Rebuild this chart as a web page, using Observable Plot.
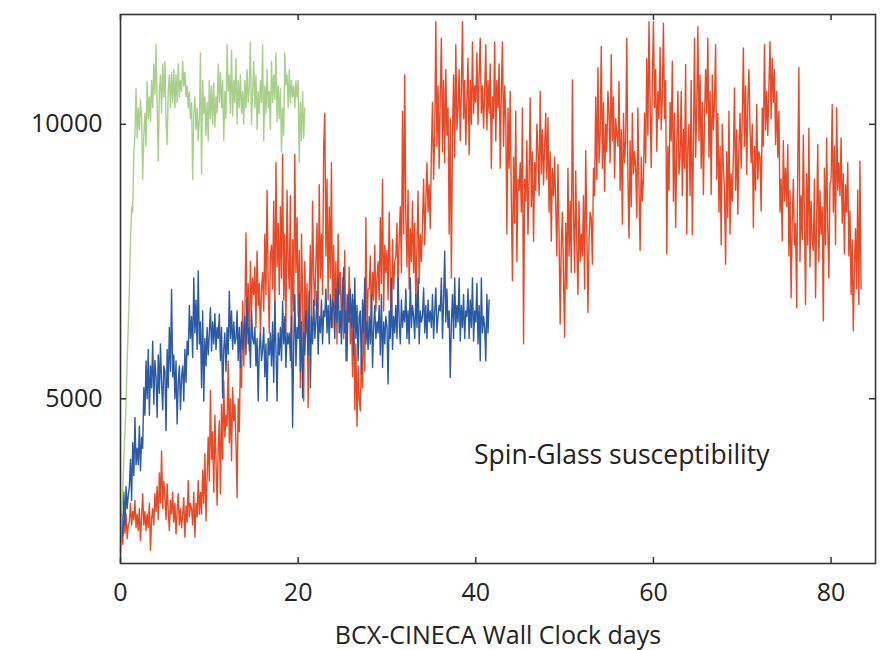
<!DOCTYPE html>
<html><head><meta charset="utf-8">
<script src="https://cdn.jsdelivr.net/npm/d3@7"></script>
<script src="https://cdn.jsdelivr.net/npm/@observablehq/plot@0.6"></script>
<style>body{margin:0;background:#fff}#chart svg{display:block}</style>
</head><body><div id="chart"></div>
<script>
// sampling interval of every series, in days (8 samples per day)
const stepDays = 0.125;

// red run (day 0 .. 83.375)
const redValues = [
2420,2650,2350,2800,2550,2900,2450,2700, 2750,3100,2700,2950,2800,3150,2650,2900,
2600,3000,2420,2850,3270,2700,2950,2600, 2900,2650,3100,2240,2800,3000,2700,3270,
2950,3400,2800,3650,3100,4050,3000,3500, 3200,2800,3450,2950,2600,3150,2900,3300,
2750,3100,2540,2950,3270,2700,3000,2650, 2900,3200,2480,3050,2750,3510,2850,3100,
3000,2700,3300,2480,3100,2850,3510,2900, 3300,2900,3700,3100,4000,2780,3600,4300,
3500,5150,3900,4400,3300,4700,3900,3060, 4100,4600,3270,4900,3900,5330,4300,4700,
4500,5690,4200,5000,3870,5200,4600,4900, 4200,3200,5000,4400,5800,5200,6780,5600,
6500,8020,6200,7100,5870,7500,6600,7200, 6900,7400,6300,7690,6700,7100,6180,7000,
7300,6600,8000,6900,8800,7100,6200,7600, 7800,7000,8600,6400,9300,7400,8200,6900,
8500,7200,9450,6800,8000,6200,8800,7500, 7000,8700,5570,7900,6600,9450,7300,8300,
6500,7700,5200,8000,6900,4960,7500,6200, 7100,4840,6900,7800,6300,8600,7200,6700,
7500,8200,6500,8900,7200,8000,6900,9600, 10200,7600,9000,6800,8500,7200,9300,6300,
7800,6500,7500,6000,8000,6900,7300,6200, 7200,6100,7700,5700,6900,6400,7400,6000,
6500,5400,6800,4800,6000,4500,5600,5000, 4780,5800,5200,6600,5500,8300,6200,7000,
7000,7600,6400,7300,6800,7800,6600,7200, 7500,6800,8300,7100,9000,6600,7800,7300,
7700,6800,8400,7200,6300,7900,7000,7500, 7600,8200,6900,7900,8500,7300,10240,8000,
10900,8300,7400,8800,7000,8100,7500,8600, 7300,8200,6660,7800,8780,7100,8000,7500,
8200,9000,7800,8600,9300,8400,8900,8100, 9500,10400,9000,9800,11870,9600,10700,9200,
10500,11570,9500,10800,9300,11000,9800,10300, 8000,10100,7200,9800,10900,9400,11450,9900,
10300,11000,9700,10600,11870,10100,10800,9630, 10500,11200,9450,10800,10000,11500,10200,10700,
10400,11300,10000,10900,11570,10200,10700,9930, 10600,11450,9900,10800,10200,11100,9200,10500,
10100,11500,9700,10800,10300,11100,9200,10600, 11500,9600,10700,10100,8000,10300,9200,10600,
8600,7150,9400,8200,10240,7500,9000,8800, 9300,8400,10300,6000,9000,8600,9700,8000,
9000,10480,8500,9500,7870,9300,8800,10000, 9500,8700,10600,9100,9900,8900,9600,10200,
9000,10120,8400,9500,7870,9200,8700,9400, 8500,7600,9270,8000,6360,7800,8400,7200,
6120,8200,7000,9200,7600,8600,7300,10810, 8400,7300,9150,7800,6900,8600,7500,8000,
7600,8700,7000,9520,8100,6570,7900,8400, 8300,7450,9200,8700,10500,9000,11030,9300,
9800,11420,9200,10400,8780,10000,9500,10600, 10200,9300,11270,9700,10500,9020,10100,9800,
9600,10780,8800,9900,8180,10200,9300,9700, 11570,9000,7930,9700,8500,10200,9100,9500,
9200,8300,10300,8800,7700,9400,8600,9000, 10200,9300,11200,9800,11870,10400,9210,10800,
11870,10300,11000,9510,10600,10100,11400,9900, 10500,11840,10100,10800,7640,9600,8800,10400,
9700,11150,8600,10200,8120,9600,10600,9100, 9400,10600,8700,9900,9200,11090,8000,9600,
10000,8700,10800,7990,9600,11570,9400,10300, 11780,9700,10900,9200,10400,8720,10100,11000,
10200,11570,9400,10600,8720,10900,9900,10400, 11450,9000,10200,8400,9600,7800,10000,9200,
8800,7450,9500,8300,10240,8000,9100,8600, 9400,10660,8800,9900,8360,9600,10200,9200,
10100,11390,9600,10700,9090,10400,11000,9900, 9300,10000,8120,9600,8800,10360,9000,9500,
9400,8420,10300,9600,11450,9900,10600,9800, 10700,11510,10100,11200,10400,11000,9630,10600,
9400,10240,8400,9000,7880,9700,8600,9200, 8500,9630,7600,8800,6840,8200,9000,7800,
8200,6660,9300,11030,7500,8700,7900,9800, 8300,6720,9100,7800,9930,7400,8600,7900,
7700,9000,6840,8300,9630,7500,8800,8000, 8500,6420,9200,7800,9750,8100,7200,8900,
9000,10360,8400,9600,7810,10300,8800,9300, 8700,9750,8200,9100,7640,8900,8400,9300,
7600,8420,6900,7900,6240,7400,8100,7000, 8800,6720,9330,7000
];

// blue run (day 0 .. 41.5)
const blueValues = [
2200,2900,2500,3300,2700,3400,3000,3250, 3400,3900,3150,4200,3600,4660,3800,4100,
3800,4500,3690,4300,4100,5200,4700,5690, 5000,5900,4700,5600,5200,6050,4900,5700,
5400,4660,5800,5100,6000,5300,4800,5600, 5500,4420,5900,5200,6300,5500,6990,5400,
5800,5000,5690,4540,5300,5600,4800,5400, 5600,4960,5900,5300,6050,5800,6700,6100,
6500,5750,7200,6200,6800,5900,7330,6000, 6400,5200,6600,4960,6100,5600,6300,5800,
6200,6660,5870,6400,6000,6550,5900,6300, 6100,6540,5700,6300,5020,5900,6200,5500,
6300,5810,6960,6100,6600,5900,6400,6000, 6100,6600,5700,6300,5570,6400,5900,6200,
6500,5800,6840,6000,6300,5570,6600,6100, 6000,6300,5600,6100,4960,5900,6200,5700,
5900,6300,5400,6000,4960,6100,5800,6200, 5600,6400,5300,6780,5900,4960,6200,5800,
6300,5700,6780,6000,6500,5570,6200,6000, 6200,5700,6500,4480,6000,6900,5600,6300,
6100,6900,5500,6400,5020,6200,5800,6600, 6300,5800,6960,5200,6500,6000,6800,6100,
6400,6960,5810,6500,6200,6800,6000,6600, 6500,7000,6200,6700,6000,6900,6300,6800,
6700,6100,7000,6400,7200,6200,6600,6000, 6800,7390,6200,6600,5690,6900,6400,7000,
6300,6900,5800,7200,6100,6700,5690,6500, 6600,5450,6800,6200,7200,6000,6400,5900,
6500,6000,6900,5570,6300,6700,6100,6400, 6200,6700,5800,6900,5570,6400,6000,6500,
6300,5270,6600,6100,7200,5900,6500,6200, 6700,6100,7200,6400,6000,6800,6300,6600,
6400,7000,6100,6600,6000,7200,6300,6700, 6500,6100,6900,6300,7200,6000,6600,6400,
6500,7020,6200,6700,6100,6800,6400,6600, 6300,6900,6100,6600,7020,6200,6500,6700,
6600,7200,6100,6800,7690,6400,7000,6300, 6600,5390,6400,6900,6100,7200,6300,6700,
6400,7200,6050,6700,6300,6900,6100,6600, 6500,7000,6100,6800,6300,7200,6050,6600,
6400,7100,6000,6700,5690,7200,6200,6500, 6300,5690,6900,6200,6800
];

// green run (day 0 .. 20.75)
const greenValues = [
2300,2800,3300,3900,4400,4900,5700,6300, 7000,7900,8500,8400,9500,9800,10650,9750,
10300,9900,10450,10100,9000,9800,10200,9600, 10780,10100,10500,10050,10800,10300,11100,10550,
11450,10400,9330,10600,10900,10200,11100,10500, 11145,10100,9630,10600,10900,10300,10950,10400,
11000,10300,10900,10400,11100,10500,10800,10600, 11150,10700,10950,10500,10700,10300,10600,10100,
10400,9000,10200,10500,9900,10300,9700,10100, 11300,9100,10800,10200,10500,9800,10400,9700,
10800,10100,10700,10000,10750,9950,10500,10200, 11100,10400,10950,10300,10800,9700,10600,10100,
11450,10600,10900,10200,11350,10150,10800,10400, 11200,10000,10800,10300,10900,10200,10600,10000,
10800,10300,11000,10400,10700,11500,10000,10600, 11150,10300,10900,9900,10600,10200,10800,10400,
11450,9700,10700,10200,11000,10300,10600,9900, 11150,10400,10900,10450,11300,10050,10700,10100,
10650,9500,10300,9800,11300,10720,10900,10300, 11000,10400,10800,10500,10700,10300,10800,10500,
10800,9300,10400,9700,10600,9750,10300
];

const xTicks = [0, 20, 40, 60, 80];
const yTicks = [5000, 10000];
const xDomain = [0, 85];
const yDomain = [2000, 12000];
const xLabel = "BCX-CINECA Wall Clock days";
const annotation = "Spin-Glass susceptibility";

const rows = (vals) => vals.map((v, i) => ({day: i * stepDays, value: v}));
const red = rows(redValues), blue = rows(blueValues), green = rows(greenValues);

const W = 891, H = 650, mL = 120, mR = 16, mT = 14, mB = 87;
const innerW = W - mL - mR, innerH = H - mT - mB;
const font = "'Open Sans', sans-serif";
const tickLen = 6, tickColor = "#333";

const chart = Plot.plot({
  width: W, height: H,
  marginLeft: mL, marginRight: mR, marginTop: mT, marginBottom: mB,
  style: {fontFamily: font, fontSize: "25px", color: "#222", background: "#fff"},
  x: {domain: xDomain},
  y: {domain: yDomain},
  marks: [
    Plot.line(red, {x: "day", y: "value", stroke: "#e84a27", strokeWidth: 1.4}),
    Plot.line(blue, {x: "day", y: "value", stroke: "#2a5aa6", strokeWidth: 1.4}),
    Plot.line(green, {x: "day", y: "value", stroke: "#a8d08b", strokeWidth: 1.4}),
    Plot.tickX(xTicks, {x: d => d, insetTop: innerH - tickLen, stroke: tickColor, strokeWidth: 1.5}),
    Plot.tickX(xTicks, {x: d => d, insetBottom: innerH - tickLen, stroke: tickColor, strokeWidth: 1.5}),
    Plot.tickY(yTicks, {y: d => d, insetRight: innerW - tickLen, stroke: tickColor, strokeWidth: 1.5}),
    Plot.tickY(yTicks, {y: d => d, insetLeft: innerW - tickLen, stroke: tickColor, strokeWidth: 1.5}),
    Plot.axisX(xTicks, {tickSize: 0, tickPadding: 20, tickFormat: "d", fontSize: 25,
      label: xLabel, labelAnchor: "center", labelOffset: 80, labelArrow: "none"}),
    Plot.axisY(yTicks, {tickSize: 0, tickPadding: 18, tickFormat: "d", fontSize: 25, label: null}),
    Plot.text([annotation], {text: d => d, frameAnchor: "bottom-right", dx: -106, dy: -100,
      textAnchor: "end", fontSize: 26.5, fill: "#222"}),
    Plot.frame({stroke: "#333", strokeWidth: 1.6})
  ]
});
document.getElementById("chart").append(chart);
</script>
</body></html>
